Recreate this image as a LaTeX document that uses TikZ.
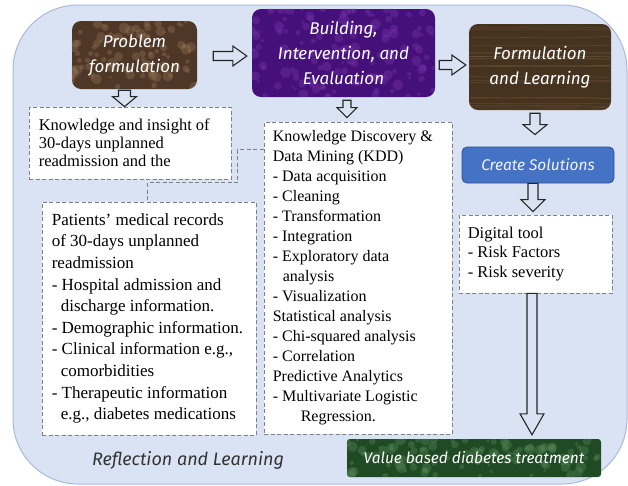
\documentclass[tikz,border=0pt]{standalone}
\usepackage{fontspec}
\setmainfont{Liberation Serif}
\newfontfamily\hand{Fira Sans}
\usetikzlibrary{calc}
\definecolor{bgblue}{HTML}{DAE3F3}
\definecolor{bgline}{HTML}{A9BBD9}
\definecolor{pfbrown}{HTML}{4E3726}
\definecolor{pflight}{HTML}{9A7A5A}
\definecolor{bpurple}{HTML}{46107A}
\definecolor{plight}{HTML}{7A3AB0}
\definecolor{wood}{HTML}{45321F}
\definecolor{woodlight}{HTML}{7A5E44}
\definecolor{csblue}{HTML}{4472C4}
\definecolor{csline}{HTML}{2F528F}
\definecolor{vgreen}{HTML}{1F4A24}
\definecolor{glight}{HTML}{5E8F5E}
\definecolor{dashgray}{HTML}{808080}
\definecolor{arrowline}{HTML}{262626}
\tikzset{
  titlebox/.style={rounded corners=9pt, inner sep=0pt},
  titletext/.style={text=white, align=center, inner sep=0pt,
    font=\hand\itshape\fontsize{17}{25}\selectfont},
  dbox/.style={draw=dashgray, dash pattern=on 4pt off 2.5pt, line width=0.8pt, fill=white, inner sep=0pt},
  btext/.style={align=left, inner sep=0pt, anchor=west},
  conn/.style={draw=dashgray, dash pattern=on 4pt off 2.5pt, line width=0.8pt},
  barrow/.style={draw=arrowline, line width=1.1pt, fill=bgblue, line join=miter},
}
% vertical block arrow: #1 start (top centre), #2 tip, #3 shaft half width, #4 head half width, #5 head length
\newcommand\varrow[5]{\draw[barrow] let \p1=(#1), \p2=(#2) in
  (\x1-#3,\y1) -- (\x1-#3,\y2+#5) -- (\x1-#4,\y2+#5) -- (\x1,\y2) -- (\x1+#4,\y2+#5) -- (\x1+#3,\y2+#5) -- (\x1+#3,\y1) -- cycle;}
% horizontal block arrow: #1 start (left centre), #2 tip
\newcommand\harrow[5]{\draw[barrow] let \p1=(#1), \p2=(#2) in
  (\x1,\y1+#3) -- (\x2-#5,\y1+#3) -- (\x2-#5,\y1+#4) -- (\x2,\y1) -- (\x2-#5,\y1-#4) -- (\x2-#5,\y1-#3) -- (\x1,\y1-#3) -- cycle;}
% mottled texture inside node #1 (width #2, height #3), colour #4, count #5, corner #6
\newcommand\mottle[6]{\begin{scope}
  \clip[rounded corners=#6] (#1.north west) rectangle (#1.south east);
  \foreach \i in {1,...,#5}{
    \pgfmathsetmacro\ax{rnd*#2}\pgfmathsetmacro\ay{rnd*#3}\pgfmathsetmacro\ar{1.5+4*rnd}
    \fill[#4, opacity=0.35] ($(#1.north west)+(\ax,\ay)$) circle[radius=\ar pt];}
  \end{scope}}
\begin{document}
\begin{tikzpicture}[x=1pt,y=-1pt]
\pgfmathsetseed{11}
\useasboundingbox (0,0) rectangle (628,485);
\draw[fill=bgblue, draw=bgline, line width=1pt, rounded corners=65pt] (13,5) rectangle (627,484);

% coloured title boxes
\node[titlebox, fill=pfbrown, minimum width=125pt, minimum height=68pt] (pf) at (134.5,55) {};
\mottle{pf}{125}{68}{pflight}{90}{9pt}
\node[titletext] (pft) at (pf) {Problem\\formulation};

\node[titlebox, fill=bpurple, minimum width=183pt, minimum height=88pt] (bld) at (343.5,53) {};
\mottle{bld}{183}{88}{plight}{140}{9pt}
\node[titletext] (bldt) at (bld) {Building,\\Intervention, and\\Evaluation};

\node[titlebox, fill=wood, minimum width=142pt, minimum height=86pt] (frm) at (540,67) {};
\begin{scope}
  \clip[rounded corners=9pt] (frm.north west) rectangle (frm.south east);
  \foreach \i in {1,...,22}{
    \pgfmathsetmacro\wy{rnd*86}\pgfmathsetmacro\wd{rnd*4-2}
    \draw[woodlight, opacity=0.45, line width=0.6pt] ($(frm.north west)+(0,\wy)$) .. controls ($(frm.north west)+(50,\wy+\wd)$) and ($(frm.north west)+(95,\wy-\wd)$) .. ($(frm.north east)+(0,\wy+\wd)$);}
\end{scope}
\node[titletext] (frmt) at (frm) {Formulation\\and Learning};

\node[titlebox, fill=csblue, draw=csline, line width=0.8pt, rounded corners=5pt, minimum width=152pt, minimum height=36pt] (cs) at (538,165) {};
\node[titletext, text=white!92!csblue, font=\hand\itshape\fontsize{15.5}{18}\selectfont] (cst) at (cs) {Create Solutions};

\node[titlebox, fill=vgreen, rounded corners=3pt, minimum width=254pt, minimum height=38pt] (vbt) at (474,458) {};
\mottle{vbt}{254}{38}{glight}{110}{3pt}
\node[titletext, font=\hand\itshape\fontsize{15.5}{18}\selectfont] (vbtt) at (vbt) {Value based diabetes treatment};

\node[inner sep=0pt, text=black!80, font=\hand\itshape\fontsize{18}{20}\selectfont] (refl) at (188,460) {Reflection and Learning};

% dashed boxes
\node[dbox, minimum width=202pt, minimum height=72pt] (know) at (130,143) {};
\node[btext, font=\fontsize{16.5}{18}\selectfont] (knowt) at ($(know.west)+(10,0)$)
  {Knowledge and insight of\\30-days unplanned\\readmission and the};

\node[dbox, minimum width=188pt, minimum height=312pt] (kdd) at (358,278) {};
\node[btext, font=\fontsize{16}{20}\selectfont] (kddt) at ($(kdd.west)+(9,0)$)
  {Knowledge Discovery \&\\
   Data Mining (KDD)\\
   - Data acquisition\\
   - Cleaning\\
   - Transformation\\
   - Integration\\
   - Exploratory data\\
   \hspace*{10pt}analysis\\
   - Visualization\\
   Statistical analysis\\
   - Chi-squared analysis\\
   - Correlation\\
   Predictive Analytics\\
   - Multivariate Logistic\\
   \hspace*{28pt}Regression.};

\node[dbox, minimum width=214pt, minimum height=233pt] (pat) at (149,318.5) {};
\node[btext, font=\fontsize{17}{21.6}\selectfont] (patt) at ($(pat.west)+(10,0)$)
  {Patients’ medical records\\
   of 30-days unplanned\\
   readmission\\
   - Hospital admission and\\
   \hspace*{9pt}discharge information.\\
   - Demographic information.\\
   - Clinical information e.g.,\\
   \hspace*{9pt}comorbidities\\
   - Therapeutic information\\
   \hspace*{9pt}e.g., diabetes medications};

\node[dbox, minimum width=153pt, minimum height=78pt] (dig) at (535.5,254) {};
\node[btext, font=\fontsize{16.5}{19.5}\selectfont] (digt) at ($(dig.west)+(9,0)$)
  {Digital tool\\- Risk Factors\\- Risk severity};

% elbow connector
\draw[conn] ($(kdd.north west)+(0,28)$) -- ++(-26,0) |- ($(pat.north west)+(106,-19)$) -- ($(pat.north west)+(106,0)$);

% block arrows
\harrow{$(pf.east)+(16,1)$}{$(bld.west)+(-5,0)$}{4.5pt}{10pt}{14pt}
\harrow{$(bld.east |- frm.west)+(4,-2)$}{$(frm.west)+(-3,0)$}{4.5pt}{10pt}{14pt}
\varrow{$(pf.south)+(-10,1)$}{know.north}{6pt}{12pt}{10pt}
\varrow{$(bld.south)+(3.5,3)$}{$(kdd.north)+(0,-4)$}{4pt}{10pt}{10pt}
\varrow{$(frm.south)+(-5,3)$}{$(cs.north)+(0,-12)$}{5pt}{12pt}{10pt}
\varrow{$(cs.south)+(-5,0)$}{$(dig.north)+(0,-3)$}{5pt}{12pt}{12pt}
\varrow{$(dig.south)+(-3.5,0)$}{$(vbt.north)+(0,-4)$}{5pt}{12pt}{21pt}
\end{tikzpicture}
\end{document}
